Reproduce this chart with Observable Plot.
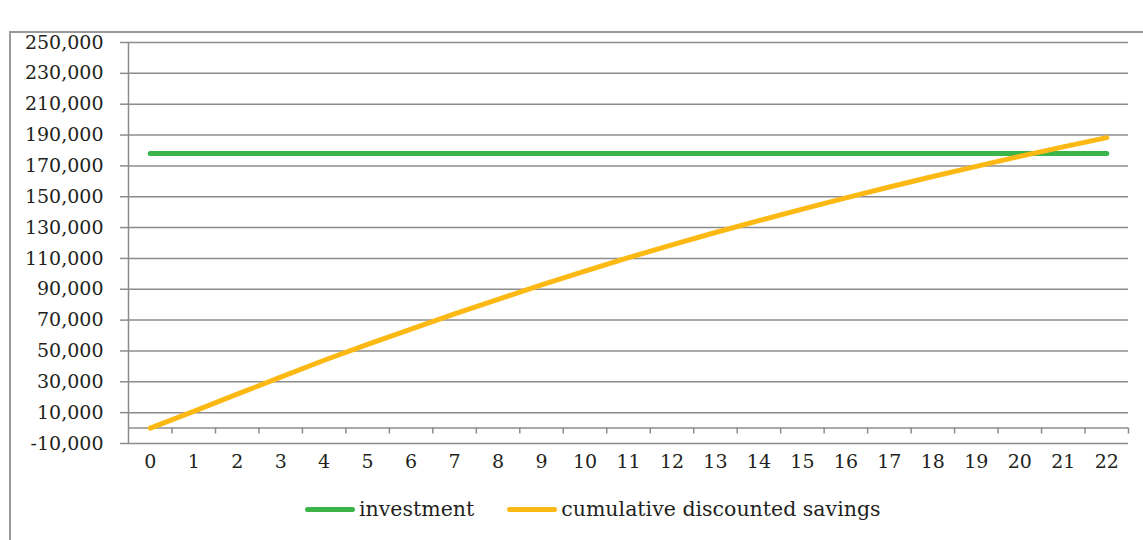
<!DOCTYPE html>
<html>
<head>
<meta charset="utf-8">
<script src="https://cdn.jsdelivr.net/npm/d3@7"></script>
<script src="https://cdn.jsdelivr.net/npm/@observablehq/plot@0.6"></script>
<style>
  html, body { margin: 0; padding: 0; background: #fff; }
  body { width: 1143px; height: 540px; overflow: hidden; position: relative; font-family: "DejaVu Serif", serif; }
  #frame { position: absolute; left: 9px; top: 31px; width: 1300px; height: 700px; border-left: 2px solid #9a9a9a; border-top: 2px solid #9a9a9a; }
  #chart { position: absolute; left: 0; top: 0; }
  #legend { position: absolute; left: 305px; top: 497px; display: flex; align-items: center; font-size: 20.5px; color: #231f20; white-space: nowrap; }
  .sw { display: inline-block; width: 50px; height: 5px; border-radius: 3px; margin-right: 4px; }
  .item { display: flex; align-items: center; margin-right: 33px; }
</style>
</head>
<body>
<div id="frame"></div>
<div id="chart"></div>
<div id="legend"></div>
<script>
const years = [0,1,2,3,4,5,6,7,8,9,10,11,12,13,14,15,16,17,18,19,20,21,22];
const investment = [178000,178000,178000,178000,178000,178000,178000,178000,178000,178000,178000,178000,178000,178000,178000,178000,178000,178000,178000,178000,178000,178000,178000];
const savings = [0,10800,22000,33000,44000,54300,64200,74000,83500,92800,101800,110500,118800,126800,134500,142000,149300,156300,163100,169700,176200,182300,188300];
const yTicks = [-10000,10000,30000,50000,70000,90000,110000,130000,150000,170000,190000,210000,230000,250000];
const seriesNames = ["investment", "cumulative discounted savings"];
const seriesColors = ["#3bb54a", "#fdb913"];

const rows = [];
years.forEach((y, i) => {
  rows.push({year: y, value: investment[i], series: seriesNames[0]});
  rows.push({year: y, value: savings[i], series: seriesNames[1]});
});
const boundaries = years.map(y => y + 0.5);
const gridColor = "#8c8c8c";

const chart = Plot.plot({
  width: 1143,
  height: 480,
  marginLeft: 128,
  marginRight: 15,
  marginTop: 42,
  marginBottom: 37,
  style: {fontFamily: "DejaVu Serif", fontSize: "19px", color: "#231f20", background: "transparent"},
  x: {type: "linear", domain: [years[0] - 0.5, years[years.length - 1] + 0.5]},
  y: {type: "linear", domain: [yTicks[0], yTicks[yTicks.length - 1]]},
  color: {domain: seriesNames, range: seriesColors},
  marks: [
    Plot.ruleY(yTicks, {stroke: gridColor, strokeWidth: 1.5}),
    Plot.ruleY([0], {stroke: gridColor, strokeWidth: 1.5}),
    Plot.ruleX(boundaries, {x: d => d, y1: 0, y2: 0, insetBottom: -6, stroke: gridColor, strokeWidth: 1.5}),
    Plot.ruleX([years[0] - 0.5], {stroke: gridColor, strokeWidth: 1.5}),
    Plot.axisY(yTicks, {tickSize: 8, tickPadding: 17, stroke: gridColor, strokeWidth: 1.5, strokeOpacity: 1,
      tickFormat: d => d.toLocaleString("en-US"), label: null, fill: "#231f20"}),
    Plot.axisX(years, {tickSize: 0, tickPadding: 11, tickFormat: d => String(d), label: null, fill: "#231f20"}),
    Plot.lineY(rows, {x: "year", y: "value", stroke: "series", strokeWidth: 5, strokeLinecap: "round", strokeLinejoin: "round", curve: "linear"})
  ]
});
document.getElementById("chart").appendChild(chart);

const legend = document.getElementById("legend");
seriesNames.forEach((name, i) => {
  const item = document.createElement("div");
  item.className = "item";
  const sw = document.createElement("span");
  sw.className = "sw";
  sw.style.background = seriesColors[i];
  const t = document.createElement("span");
  t.textContent = name;
  item.appendChild(sw);
  item.appendChild(t);
  legend.appendChild(item);
});
</script>
</body>
</html>
